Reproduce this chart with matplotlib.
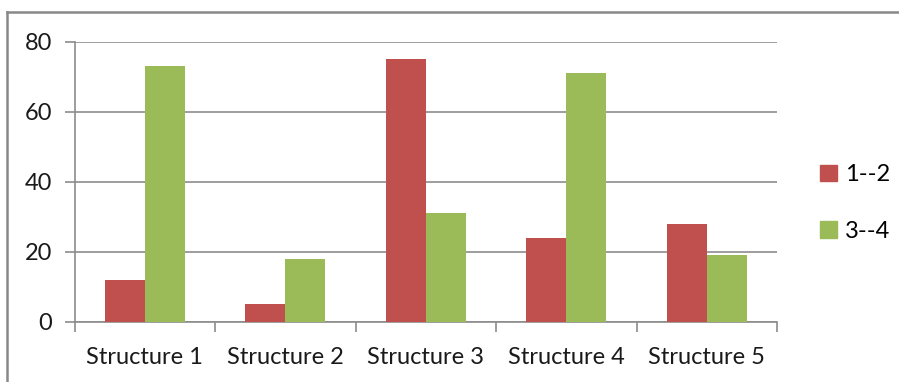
import matplotlib
matplotlib.use("Agg")
import matplotlib.pyplot as plt
from matplotlib.lines import Line2D
from matplotlib.patches import Patch
import numpy as np

categories = ["Structure 1", "Structure 2", "Structure 3", "Structure 4", "Structure 5"]
series_names = ["1--2", "3--4"]
vals_12 = [12, 5, 75, 24, 28]
vals_34 = [73, 18, 31, 71, 19]
colors = ["#C0504D", "#9BBB59"]

plt.rcParams["font.family"] = ["Lato", "DejaVu Sans"]
plt.rcParams["font.size"] = 17

W, H = 899, 382
fig = plt.figure(figsize=(W / 100, H / 100), dpi=100)
ax = fig.add_axes([74.5 / W, 1 - 321.7 / H, (777 - 74.5) / W, (321.7 - 42) / H])

x = np.arange(len(categories))
bw = 0.285
ax.bar(x - bw / 2, vals_12, bw, color=colors[0], label=series_names[0], zorder=3)
ax.bar(x + bw / 2, vals_34, bw, color=colors[1], label=series_names[1], zorder=3)

ax.set_xlim(-0.5, len(categories) - 0.5)
ax.set_ylim(0, 80)
ax.set_yticks([0, 20, 40, 60, 80])
ax.yaxis.grid(True, color="#8c8c8c", linewidth=1.2, zorder=0)

# excel style: ticks between categories, labels centered
ax.set_xticks(np.arange(-0.5, len(categories), 1.0))
ax.set_xticklabels([])
ax.set_xticks(x, minor=True)
ax.set_xticklabels(categories, minor=True)
ax.tick_params(axis="x", which="major", length=7, color="#8c8c8c", width=1.2)
ax.tick_params(axis="x", which="minor", length=0, pad=18, colors="#1a1a1a")
ax.tick_params(axis="y", length=7, color="#8c8c8c", width=1.2, pad=9, colors="#1a1a1a")

for s in ["top", "right"]:
    ax.spines[s].set_visible(False)
for s in ["left", "bottom"]:
    ax.spines[s].set_color("#8c8c8c")
    ax.spines[s].set_linewidth(1.2)

handles = [Patch(color=c) for c in colors]
fig.legend(handles, series_names, loc="center left", bbox_to_anchor=(820 / W, 1 - 203 / H),
           frameon=False, borderpad=0, borderaxespad=0,
           handlelength=0.7, handleheight=0.7, handletextpad=0.35,
           labelspacing=1.5, fontsize=17)

# outer chart frame
fig.add_artist(Line2D([7 / W, 1], [1 - 12 / H, 1 - 12 / H], color="#888888", linewidth=1.8))
fig.add_artist(Line2D([7 / W, 7 / W], [0, 1 - 12 / H], color="#888888", linewidth=1.8))

fig.savefig("out.png", dpi=100)
